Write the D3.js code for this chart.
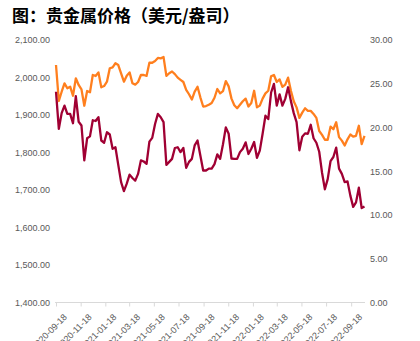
<!DOCTYPE html>
<html>
<head>
<meta charset="utf-8">
<script src="https://cdn.jsdelivr.net/npm/d3@7/dist/d3.min.js"></script>
<style>
  html, body { margin: 0; padding: 0; background: #fff; }
  svg { display: block; }
  .title { font-family: "Noto Sans CJK SC", sans-serif; font-weight: 700; font-size: 17px; fill: #000; }
  .axis text { font-family: "Liberation Sans", Arial, sans-serif; font-size: 9px; fill: #595959; }
</style>
</head>
<body>
<svg id="chart" width="420" height="341"></svg>
<script>
// Weekly closing prices (Fridays), starting 2020-09-18
const startDate = "2020-09-18";

// Gold, USD/oz (left axis)
const gold = [
  1962, 1863, 1905, 1925, 1903, 1903, 1878, 1950, 1882, 1872,
  1779, 1838, 1843, 1886, 1884, 1894, 1832, 1826, 1854, 1848,
  1810, 1814, 1767, 1721, 1697, 1717, 1741, 1732, 1725, 1743,
  1779, 1776, 1770, 1829, 1839, 1876, 1903, 1894, 1881, 1767,
  1775, 1783, 1812, 1814, 1801, 1812, 1759, 1775, 1783, 1819,
  1832, 1792, 1752, 1752, 1757, 1757, 1769, 1795, 1783, 1822,
  1867, 1850, 1784, 1783, 1783, 1801, 1810, 1827, 1796, 1810,
  1828, 1786, 1805, 1850, 1898, 1889, 1960, 1983, 1925, 1955,
  1925, 1943, 1974, 1937, 1905, 1881, 1806, 1842, 1851, 1850,
  1874, 1838, 1826, 1802, 1746, 1702, 1729, 1777, 1788, 1813,
  1757, 1743, 1721, 1723, 1685, 1655, 1667, 1706, 1652, 1656
];

// Silver, USD/oz (right axis)
const silver = [
  27.14, 23.03, 24.09, 25.05, 24.48, 24.67, 23.63, 25.62, 24.86, 24.36,
  22.49, 24.17, 24.02, 26.00, 25.89, 26.30, 24.60, 24.74, 25.23, 26.77,
  26.88, 27.34, 27.14, 26.19, 25.23, 25.92, 26.30, 25.05, 24.90, 25.20,
  26.00, 26.00, 25.90, 27.40, 27.40, 27.60, 27.95, 27.90, 28.05, 25.90,
  26.20, 26.40, 26.10, 25.70, 25.45, 25.20, 24.30, 23.80, 23.20, 24.10,
  24.65, 23.45, 22.40, 22.45, 22.60, 22.80, 23.40, 24.40, 23.90, 24.15,
  25.30, 24.70, 23.30, 22.55, 22.20, 22.60, 23.00, 23.30, 22.40, 22.80,
  24.20, 22.30, 22.50, 23.30, 23.90, 24.20, 25.85, 26.00, 25.20, 25.50,
  24.65, 24.90, 25.70, 24.20, 23.00, 22.30, 21.10, 21.70, 22.20, 21.90,
  21.90, 21.55, 21.10, 19.60, 19.15, 18.60, 18.60, 20.10, 19.80, 20.60,
  18.90, 18.50, 17.95, 18.65, 19.20, 18.95, 19.05, 20.20, 18.10, 19.05
];

// Axis tick labels
const xTickLabels = [
  "2020-09-18", "2020-11-18", "2021-01-18", "2021-03-18", "2021-05-18",
  "2021-07-18", "2021-09-18", "2021-11-18", "2022-01-18", "2022-03-18",
  "2022-05-18", "2022-07-18", "2022-09-18"
];
const leftTicks = [1400, 1500, 1600, 1700, 1800, 1900, 2000, 2100];
const rightTicks = [0, 5, 10, 15, 20, 25, 30];

const parse = d3.timeParse("%Y-%m-%d");
const fmt = d3.timeFormat("%Y-%m-%d");
const t0 = parse(startDate);
const dates = gold.map((_, i) => d3.timeDay.offset(t0, 7 * i));

const svg = d3.select("#chart");

svg.append("text")
  .attr("class", "title")
  .attr("x", 12)
  .attr("y", 22)
  .text("图：贵金属价格（美元/盎司）");

const x = d3.scaleTime()
  .domain([dates[0], dates[dates.length - 1]])
  .range([56, 364.5]);

const yL = d3.scaleLinear().domain([1400, 2100]).range([302.5, 40]);
const yR = d3.scaleLinear().domain([0, 30]).range([302.5, 40]);

// Bottom axis
const xAxis = svg.append("g")
  .attr("class", "axis")
  .attr("transform", "translate(0,302.5)")
  .call(d3.axisBottom(x)
    .tickValues(xTickLabels.map(parse))
    .tickFormat(fmt)
    .tickSize(4)
    .tickSizeOuter(0));
xAxis.select(".domain").remove();
xAxis.append("line")
  .attr("x1", 55).attr("x2", 365)
  .attr("stroke", "#d9d9d9").attr("stroke-width", 1);
xAxis.selectAll(".tick line").attr("stroke", "#d9d9d9");
xAxis.selectAll(".tick text")
  .attr("text-anchor", "end")
  .attr("dy", "0.35em")
  .attr("transform", "translate(4,8) rotate(-45)");

// Left axis
const yAxisL = svg.append("g")
  .attr("class", "axis")
  .attr("transform", "translate(50,0)")
  .call(d3.axisLeft(yL).tickValues(leftTicks).tickFormat(d3.format(",.2f")).tickSize(0).tickPadding(0));
yAxisL.select(".domain").remove();

// Right axis
const yAxisR = svg.append("g")
  .attr("class", "axis")
  .attr("transform", "translate(370,0)")
  .call(d3.axisRight(yR).tickValues(rightTicks).tickFormat(d3.format(".2f")).tickSize(0).tickPadding(0));
yAxisR.select(".domain").remove();

// Lines
const lineGold = d3.line().x((d, i) => x(dates[i])).y(d => yL(d));
const lineSilver = d3.line().x((d, i) => x(dates[i])).y(d => yR(d));

svg.append("path")
  .datum(silver)
  .attr("d", lineSilver)
  .attr("fill", "none")
  .attr("stroke", "#ff7f1e")
  .attr("stroke-width", 2.3)
  .attr("stroke-linejoin", "round");

svg.append("path")
  .datum(gold)
  .attr("d", lineGold)
  .attr("fill", "none")
  .attr("stroke", "#a00033")
  .attr("stroke-width", 2.3)
  .attr("stroke-linejoin", "round");
</script>
</body>
</html>
